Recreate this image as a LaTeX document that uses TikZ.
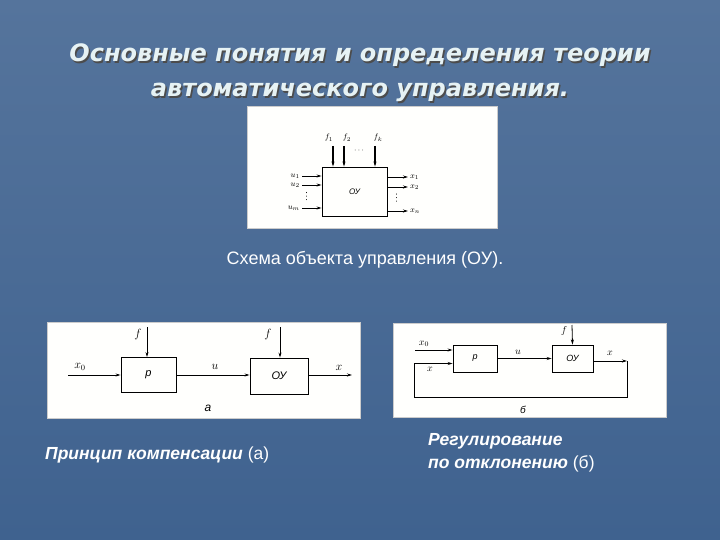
\documentclass[tikz,border=0pt]{standalone}
\usepackage{fontspec}
\setmainfont{Liberation Sans}
\newfontfamily\titlefont{DejaVu Sans}
\usetikzlibrary{
  arrows.meta,
  positioning
}
\definecolor{slidetop}{HTML}{55749C}
\definecolor{slidebot}{HTML}{3F628F}
\definecolor{titlewhite}{HTML}{E6F2F4}
\definecolor{panelwhite}{HTML}{FFFFFD}

\begin{document}
\begin{tikzpicture}[
  x=1pt, y=-1pt,
  >={Stealth[length=5pt,width=3pt]},
  panel/.style={fill=panelwhite, draw=black!20, line width=0.4pt},
  blk/.style={draw, line width=0.9pt, inner sep=0pt},
  arr/.style={->, line width=0.8pt},
  lbl/.style={inner sep=0pt},
  dotcol/.style={line width=1pt, line cap=round, dash pattern=on 0.01pt off 3.5pt},
  titletext/.style={font=\titlefont\bfseries\itshape\fontsize{24}{35}\selectfont, align=center},
  caption/.style={text=white, inner sep=0pt, align=left, font=\fontsize{17.5}{23}\selectfont}
]

  % Slide background
  \useasboundingbox (0,0) rectangle (720,540);
  \shade[top color=slidetop, bottom color=slidebot] (0,0) rectangle (720,540);

  % Title
  \node[titletext, text=black!70] (titleshadow) at (361.5,74.5)
    {Основные понятия и определения теории\\автоматического управления.};
  \node[titletext, text=titlewhite] (title) at (360,73)
    {Основные понятия и определения теории\\автоматического управления.};

  % Panels
  \draw[panel] (247,106) rectangle (497,228);
  \draw[panel] (47,322) rectangle (360,418);
  \draw[panel] (393,323) rectangle (666,417);

  % Object of control
  \node[blk, minimum width=65, minimum height=49, font=\itshape\fontsize{8}{9}\selectfont] (ou) at (354.5,191.5) {ОУ};
  \coordinate (fin1) at (333,146);
  \coordinate (fin2) at (344,146);
  \coordinate (fink) at (375,146);
  \draw[arr, line width=1.1pt] (fin1) -- (fin1 |- ou.north);
  \draw[arr, line width=1.1pt] (fin2) -- (fin2 |- ou.north);
  \draw[arr, line width=1.1pt] (fink) -- (fink |- ou.north);
  \node[lbl, font=\fontsize{8}{9}\selectfont] (f1lbl) at (329,138) {$f_1$};
  \node[lbl, font=\fontsize{8}{9}\selectfont] (f2lbl) at (347,138) {$f_2$};
  \node[lbl, font=\fontsize{8}{9}\selectfont] (fklbl) at (378,138) {$f_k$};
  \node[lbl, font=\fontsize{8}{9}\selectfont] (fdots) at (359,151) {$\cdots$};

  \coordinate (uin1) at (302,176);
  \coordinate (uin2) at (302,185);
  \coordinate (uinm) at (302,208);
  \draw[arr] (uin1) -- (uin1 -| ou.west);
  \draw[arr] (uin2) -- (uin2 -| ou.west);
  \draw[arr] (uinm) -- (uinm -| ou.west);
  \node[lbl, font=\fontsize{8}{9}\selectfont, left=2pt of uin1] (u1lbl) {$u_1$};
  \node[lbl, font=\fontsize{8}{9}\selectfont, left=2pt of uin2] (u2lbl) {$u_2$};
  \node[lbl, font=\fontsize{8}{9}\selectfont, left=2pt of uinm] (umlbl) {$u_m$};
  \coordinate (udots) at (306,192.5);
  \draw[dotcol] (udots) -- ++(0,9);

  \coordinate (xout1) at (408,177);
  \coordinate (xout2) at (408,187);
  \coordinate (xoutn) at (408,211);
  \draw[arr] (xout1 -| ou.east) -- (xout1);
  \draw[arr] (xout2 -| ou.east) -- (xout2);
  \draw[arr] (xoutn -| ou.east) -- (xoutn);
  \node[lbl, font=\fontsize{8}{9}\selectfont, right=2pt of xout1] (x1lbl) {$x_1$};
  \node[lbl, font=\fontsize{8}{9}\selectfont, right=2pt of xout2] (x2lbl) {$x_2$};
  \node[lbl, font=\fontsize{8}{9}\selectfont, right=2pt of xoutn] (xnlbl) {$x_n$};
  \coordinate (xdots) at (396,194);
  \draw[dotcol] (xdots) -- ++(0,9);

  \node[caption, font=\fontsize{18}{21}\selectfont] (capou) at (365,260) {Схема объекта управления (ОУ).};

  % Compensation scheme (a)
  \node[blk, minimum width=55, minimum height=35, font=\itshape\fontsize{11}{13}\selectfont] (rega) at (148.5,375) {р};
  \node[blk, minimum width=58, minimum height=36, font=\itshape\fontsize{11}{13}\selectfont] (oua) at (279,376) {ОУ};
  \coordinate (x0a) at (68,375);
  \coordinate (fa1) at (147,327);
  \coordinate (fa2) at (280,327);
  \coordinate (xa) at (352,375);
  \draw[arr] (x0a) -- (x0a -| rega.west);
  \draw[arr] (rega.east) -- (rega.east -| oua.west);
  \draw[arr] (fa1) -- (fa1 |- rega.north);
  \draw[arr] (fa2) -- (fa2 |- oua.north);
  \draw[arr] (xa -| oua.east) -- (xa);
  \node[lbl, font=\fontsize{12}{14}\selectfont] (x0albl) at (80,367) {$x_0$};
  \node[lbl, font=\fontsize{12}{14}\selectfont] (ualbl) at (215,367) {$u$};
  \node[lbl, font=\fontsize{12}{14}\selectfont] (xalbl) at (339,368) {$x$};
  \node[lbl, font=\fontsize{12}{14}\selectfont] (fa1lbl) at (138,334) {$f$};
  \node[lbl, font=\fontsize{12}{14}\selectfont] (fa2lbl) at (268,334) {$f$};
  \node[lbl, font=\itshape\fontsize{12}{14}\selectfont] (alpha) at (208,408) {а};

  % Deviation control (b)
  \node[blk, minimum width=44, minimum height=27, font=\itshape\fontsize{9}{11}\selectfont] (regb) at (475,358.5) {р};
  \node[blk, minimum width=41, minimum height=27, font=\itshape\fontsize{9}{11}\selectfont] (oub) at (572.5,358.5) {ОУ};
  \coordinate (x0b) at (415,350);
  \coordinate (fb) at (572,325);
  \coordinate (xb) at (627,361);
  \coordinate (fbback) at (414,397);
  \draw[arr] (x0b) -- (x0b -| regb.west);
  \draw[arr] (regb.east) -- (oub.west);
  \draw[arr] (fb) -- (oub.north);
  \draw[arr] (xb -| oub.east) -- (xb);
  \draw[arr] (xb) |- (fbback) |- ([yshift=-5pt]regb.west);
  \node[lbl, font=\fontsize{10}{12}\selectfont] (x0blbl) at (424,344) {$x_0$};
  \node[lbl, font=\fontsize{10}{12}\selectfont] (xinlbl) at (430,369) {$x$};
  \node[lbl, font=\fontsize{10}{12}\selectfont] (ublbl) at (518,352) {$u$};
  \node[lbl, font=\fontsize{10}{12}\selectfont] (fblbl) at (564,331) {$f$};
  \node[lbl, font=\fontsize{10}{12}\selectfont] (xblbl) at (610,353) {$x$};
  \node[lbl, font=\itshape\fontsize{10}{12}\selectfont] (beta) at (523,410) {б};

  % Captions
  \node[caption, anchor=west] (capa) at (45,455)
    {\bfseries\itshape Принцип компенсации \mdseries\upshape(а)};
  \node[caption, anchor=north west] (capb) at (428,433)
    {\bfseries\itshape Регулирование\\\bfseries\itshape по отклонению \mdseries\upshape(б)};

\end{tikzpicture}
\end{document}
